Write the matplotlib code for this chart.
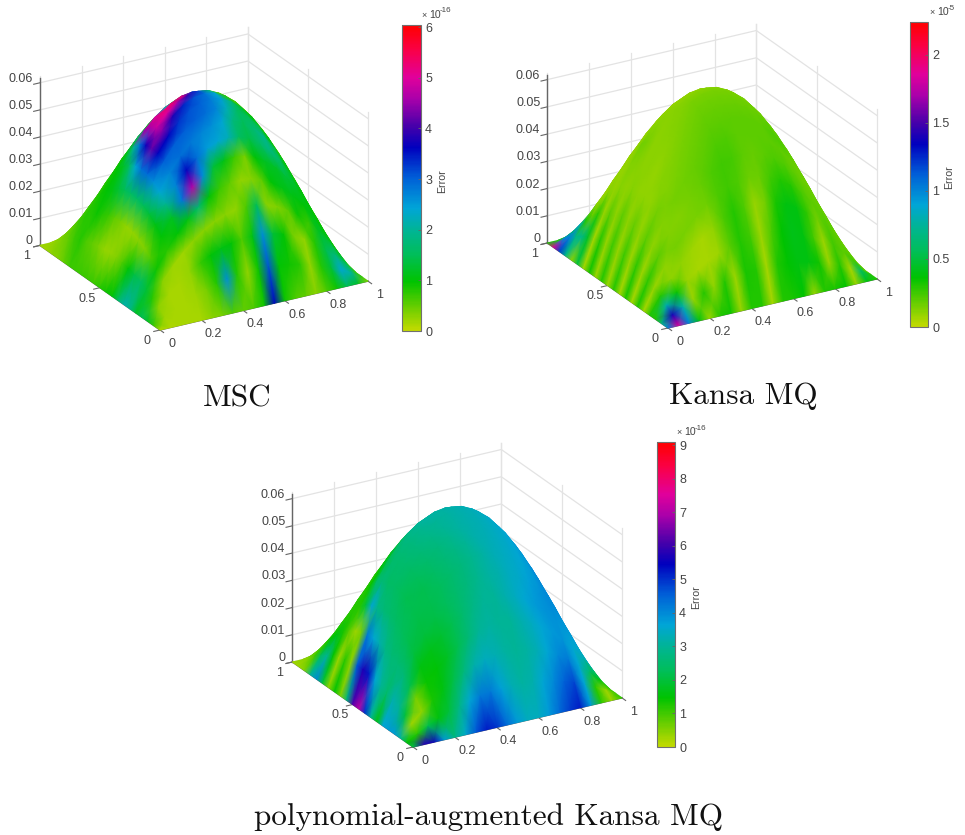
import numpy as np
import matplotlib
matplotlib.use("Agg")
import matplotlib.pyplot as plt
from matplotlib.cm import ScalarMappable
from matplotlib.colors import LinearSegmentedColormap, Normalize
from mpl_toolkits.mplot3d import proj3d

plt.rcParams["font.family"] = ["Liberation Sans", "DejaVu Sans"]

# grid nodes, every 0.05
nodes = [0, .05, .1, .15, .2, .25, .3, .35, .4, .45, .5, .55, .6, .65, .7, .75, .8, .85, .9, .95, 1]
# height of the bell along one side, the surface is profile(x) * profile(y)
profile = [0, .0475, .09, .1275, .16, .1875, .21, .2275, .24, .2475, .25,
           .2475, .24, .2275, .21, .1875, .16, .1275, .09, .0475, 0]

x_ticks = [0, .2, .4, .6, .8, 1]
x_labels = ["0", "0.2", "0.4", "0.6", "0.8", "1"]
y_ticks = [0, .5, 1]
y_labels = ["0", "0.5", "1"]
z_ticks = [0, .01, .02, .03, .04, .05, .06]
z_labels = ["0", "0.01", "0.02", "0.03", "0.04", "0.05", "0.06"]

# rows are y = 0 ... 1, columns are x = 0 ... 1
msc_error = [
    [.1, .1, .15, .15, .15, .3, .4, .6, .5, .6, .9, 3.6, .9, .6, .5, .3, .6, .9, 1.5, 1.2, .3],
    [.7, .2, .15, .15, .2, .4, .8, 2.6, .8, .25, .9, 3.1, 1.0, .9, .8, .25, .8, 1.3, 2.4, 2.0, .7],
    [1.2, .3, .15, .15, .25, .7, 1.0, 1.1, 1.0, .6, 1.1, 2.6, 1.3, 1.0, .4, .25, .8, 1.4, 1.8, 1.5, .7],
    [1.5, .8, .3, .2, .2, .3, .3, .3, .3, .25, .6, 1.5, .3, .35, .5, .9, .7, 1.2, 1.3, 1.2, .7],
    [1.2, 1.3, .9, .8, 1.0, 1.1, 1.7, 1.0, .7, .5, .25, .3, .5, 1.0, 1.1, 1.1, 1.0, 1.1, 1.0, .9, .6],
    [1.9, 1.6, .6, 1.0, 1.2, 2.8, 4.7, 2.6, 1.3, 1.1, .7, .4, 1.0, 1.2, 1.2, 1.3, 1.2, 1.0, .9, .7, .5],
    [2.1, 1.4, .35, 1.1, 2.0, 2.7, 3.6, 2.9, 2.5, 2.4, 2.2, 1.6, 1.4, 1.6, 1.8, 1.6, 1.2, 1.0, .9, .6, .5],
    [1.6, 1.0, .3, 1.3, 2.4, 2.7, 2.9, 2.8, 2.7, 2.6, 2.4, 1.8, 1.5, 1.7, 1.9, 1.4, 1.0, .8, .6, .5, .5],
    [1.0, .6, .25, 1.5, 2.6, 3.0, 3.0, 3.0, 3.0, 2.9, 2.7, 2.2, 1.6, 1.5, 1.4, 1.0, .7, .6, .5, .5, .5],
    [.9, .35, .25, 1.6, 2.9, 3.6, 3.6, 3.3, 3.1, 3.0, 2.8, 2.5, 1.8, 1.2, 1.0, .7, .5, .5, .5, .5, .5],
    [.8, .25, .4, 1.6, 2.9, 4.2, 4.4, 3.8, 3.4, 3.1, 2.9, 2.4, .8, .6, .5, .5, .5, .5, .5, .5, .5],
    [.7, .25, .5, 1.5, 2.4, 3.7, 4.8, 5.0, 4.6, 3.9, 3.2, 1.8, .5, .5, .5, .5, .5, .5, .5, .5, .5],
    [.7, .4, .7, 1.3, 1.6, 2.9, 4.6, 5.2, 5.3, 5.2, 3.4, 1.0, .5, .5, .5, .5, .5, .5, .5, .5, .5],
    [.7, .5, .8, 1.1, 1.2, 2.0, 4.5, 5.0, 2.2, 1.2, 1.0, .8, .5, .5, .5, .5, .5, .5, .5, .5, .5],
    [.7, .6, .9, 1.0, 1.0, 1.2, 1.5, 1.2, 1.0, 1.0, 1.0, .8, .5, .5, .5, .5, .5, .5, .5, .5, .5],
    [.7, .8, .8, .9, .9, .9, .9, .9, .9, .9, .9, .8, .5, .5, .5, .5, .5, .5, .5, .5, .5],
    [.5, .7, .8, .8, .8, .8, .8, .8, .8, .8, .8, .8, .5, .5, .5, .5, .5, .5, .5, .5, .5],
    [.35, .5, .7, .7, .7, .7, .7, .7, .7, .7, .7, .7, .5, .5, .5, .5, .5, .5, .5, .5, .5],
    [.3, .4, .5, .6, .6, .6, .6, .6, .6, .6, .6, .6, .5, .5, .5, .5, .5, .5, .5, .5, .5],
    [.2, .3, .4, .5, .5, .5, .5, .5, .5, .5, .5, .5, .5, .5, .5, .5, .5, .5, .5, .5, .5],
    [.2, .2, .3, .4, .5, .5, .5, .5, .5, .5, .5, .5, .5, .5, .5, .5, .5, .5, .5, .5, .5],
]

kansa_error = [
    [1.0, 1.85, 1.0, .4, .08, .3, .34, .08, .3, .3, .06, .3, .32, .36, .08, .3, .32, .36, .08, .4, .3],
    [.7, 1.4, .8, .08, .3, .1, .3, .07, .32, .3, .06, .3, .36, .4, .4, .34, .08, .3, .06, .6, .3],
    [.3, .8, .35, .08, .06, .06, .07, .2, .3, .25, .07, .22, .36, .42, .4, .25, .07, .25, .2, .25, .15],
    [.3, .3, .1, .1, .07, .06, .1, .22, .3, .22, .08, .15, .32, .4, .4, .28, .15, .22, .2, .18, .12],
    [.06, .08, .1, .15, .14, .14, .16, .22, .25, .22, .17, .17, .24, .3, .3, .24, .2, .2, .2, .16, .12],
    [.32, .28, .2, .13, .13, .15, .18, .22, .25, .24, .2, .18, .2, .22, .22, .2, .18, .18, .18, .16, .12],
    [.06, .07, .1, .13, .15, .16, .18, .2, .22, .22, .2, .2, .2, .2, .2, .18, .17, .17, .16, .15, .12],
    [.32, .28, .2, .15, .13, .14, .16, .18, .2, .2, .2, .2, .2, .2, .22, .22, .18, .17, .16, .15, .12],
    [.06, .07, .09, .1, .12, .13, .14, .16, .18, .18, .18, .18, .18, .18, .2, .2, .18, .17, .16, .15, .12],
    [.3, .26, .18, .1, .09, .11, .13, .14, .16, .16, .16, .16, .16, .16, .16, .16, .15, .15, .15, .14, .12],
    [.07, .08, .1, .1, .11, .11, .12, .13, .14, .14, .14, .14, .14, .14, .14, .14, .14, .14, .14, .14, .12],
    [.3, .26, .2, .12, .11, .11, .11, .12, .12, .12, .12, .12, .12, .12, .12, .13, .13, .13, .13, .13, .12],
    [.07, .08, .1, .1, .13, .14, .12, .11, .1, .1, .1, .1, .1, .1, .11, .12, .13, .13, .13, .13, .12],
    [.34, .3, .2, .12, .13, .16, .12, .1, .09, .09, .09, .09, .09, .09, .11, .12, .13, .13, .13, .13, .12],
    [.06, .06, .08, .09, .09, .1, .09, .09, .09, .09, .09, .09, .09, .09, .1, .12, .13, .13, .13, .13, .12],
    [.5, .45, .28, .12, .09, .09, .09, .09, .09, .09, .09, .09, .09, .09, .1, .12, .13, .13, .13, .13, .12],
    [.1, .7, .18, .09, .09, .09, .09, .09, .09, .09, .09, .09, .09, .09, .1, .12, .13, .13, .13, .13, .12],
    [.7, .7, .3, .1, .09, .09, .09, .09, .09, .09, .09, .09, .09, .09, .1, .12, .13, .13, .13, .13, .12],
    [1.2, 1.0, .8, .15, .09, .09, .09, .09, .09, .09, .09, .09, .09, .09, .1, .12, .13, .13, .13, .13, .12],
    [1.9, 1.0, .5, .15, .09, .09, .09, .09, .09, .09, .09, .09, .09, .09, .1, .12, .13, .13, .13, .13, .12],
    [.3, .3, .3, .15, .09, .09, .09, .09, .09, .09, .09, .09, .09, .09, .1, .12, .13, .13, .13, .13, .12],
]

poly_error = [
    [2.0, 5.8, 5.6, 3.8, 2.8, 3.5, 4.6, 5.2, 5.0, 4.4, 3.8, 3.4, 3.4, 3.8, 4.4, 4.9, 5.2, 3.8, 1.2, .3, 1.2],
    [1.5, 1.2, 2.2, 1.6, 2.0, 2.8, 3.6, 4.2, 4.2, 3.7, 3.3, 3.1, 3.2, 3.6, 4.0, 4.5, 4.8, 3.6, 1.2, .3, 1.0],
    [3.0, .3, .4, 1.3, 1.6, 2.1, 2.7, 3.2, 3.4, 3.3, 3.1, 3.0, 3.1, 3.3, 3.6, 4.0, 4.2, 3.6, 2.5, 1.5, 1.0],
    [3.8, 2.0, .6, 1.4, 1.5, 1.8, 2.2, 2.6, 3.0, 3.1, 3.0, 3.0, 3.2, 3.4, 3.6, 3.8, 3.9, 3.6, 3.3, 2.5, 2.0],
    [3.8, 3.0, 2.2, 1.6, 1.7, 1.9, 2.2, 2.5, 2.8, 3.0, 3.0, 3.2, 3.4, 3.6, 3.8, 3.9, 3.9, 3.8, 3.6, 3.4, 3.0],
    [3.6, 3.2, 2.6, 2.0, 2.0, 2.1, 2.3, 2.5, 2.7, 2.9, 3.1, 3.2, 3.4, 3.5, 3.7, 3.9, 4.0, 3.9, 3.8, 3.8, 3.6],
    [1.6, 2.5, 2.6, 2.2, 2.1, 2.2, 2.3, 2.5, 2.7, 2.9, 3.1, 3.3, 3.4, 3.5, 3.6, 3.8, 4.0, 4.0, 3.8, 3.8, 3.8],
    [3.0, 3.0, 2.6, 2.3, 2.2, 2.2, 2.4, 2.6, 2.8, 3.0, 3.2, 3.3, 3.4, 3.5, 3.6, 3.8, 4.0, 4.0, 3.8, 3.8, 3.8],
    [5.0, 3.6, 2.8, 2.4, 2.2, 2.3, 2.5, 2.7, 2.9, 3.1, 3.2, 3.3, 3.4, 3.5, 3.6, 3.8, 4.0, 4.0, 3.8, 3.8, 3.8],
    [7.2, 5.2, 3.2, 2.5, 2.3, 2.4, 2.6, 2.8, 3.0, 3.1, 3.2, 3.3, 3.4, 3.5, 3.6, 3.8, 4.0, 4.0, 3.8, 3.8, 3.8],
    [6.2, 5.7, 3.6, 2.6, 2.4, 2.5, 2.7, 2.9, 3.0, 3.1, 3.2, 3.3, 3.4, 3.5, 3.6, 3.8, 4.0, 4.0, 3.8, 3.8, 3.8],
    [2.6, 4.6, 4.2, 2.8, 2.4, 2.5, 2.7, 2.9, 3.1, 3.1, 3.2, 3.3, 3.4, 3.5, 3.6, 3.8, 4.0, 4.0, 3.8, 3.8, 3.8],
    [.5, .4, .6, 3.6, 2.6, 2.5, 2.7, 2.9, 3.1, 3.1, 3.2, 3.3, 3.4, 3.5, 3.6, 3.8, 4.0, 4.0, 3.8, 3.8, 3.8],
    [1.5, 1.2, .3, 2.0, 2.5, 2.2, 2.5, 2.8, 3.0, 3.1, 3.2, 3.3, 3.4, 3.5, 3.6, 3.8, 4.0, 4.0, 3.8, 3.8, 3.8],
    [.4, .3, .8, 1.2, 1.4, 1.5, 1.7, 2.1, 2.6, 2.8, 3.0, 3.1, 3.4, 3.5, 3.6, 3.8, 4.0, 4.0, 3.8, 3.8, 3.8],
    [2.0, 1.5, 1.3, 1.2, 1.2, 1.2, 1.3, 1.6, 2.1, 2.5, 2.7, 2.9, 3.4, 3.5, 3.6, 3.8, 4.0, 4.0, 3.8, 3.8, 3.8],
    [4.0, 3.0, 1.6, 1.2, 1.2, 1.2, 1.2, 1.3, 1.6, 2.0, 2.4, 2.8, 3.4, 3.5, 3.6, 3.8, 4.0, 4.0, 3.8, 3.8, 3.8],
    [3.0, 2.4, 1.5, 1.2, 1.2, 1.2, 1.2, 1.2, 1.4, 1.8, 2.2, 2.8, 3.4, 3.5, 3.6, 3.8, 4.0, 4.0, 3.8, 3.8, 3.8],
    [.5, 1.0, 1.2, 1.2, 1.2, 1.2, 1.2, 1.2, 1.3, 1.6, 2.0, 2.8, 3.4, 3.5, 3.6, 3.8, 4.0, 4.0, 3.8, 3.8, 3.8],
    [.3, .5, .9, 1.1, 1.2, 1.2, 1.2, 1.2, 1.3, 1.6, 2.0, 2.8, 3.4, 3.5, 3.6, 3.8, 4.0, 4.0, 3.8, 3.8, 3.8],
    [.3, .4, .8, 1.0, 1.2, 1.2, 1.2, 1.2, 1.3, 1.6, 2.0, 2.8, 3.4, 3.5, 3.6, 3.8, 4.0, 4.0, 3.8, 3.8, 3.8],
]

colour_stops = [
    (0, (195, 218, 0)), (.08, (100, 205, 0)), (.16, (0, 195, 0)), (.25, (0, 190, 90)),
    (.33, (0, 180, 150)), (.40, (0, 165, 215)), (.5, (0, 95, 215)), (.6, (0, 0, 190)),
    (.67, (70, 0, 170)), (.76, (170, 0, 170)), (.83, (225, 0, 155)), (.92, (250, 0, 70)),
    (1, (255, 0, 0)),
]
error_cmap = LinearSegmentedColormap.from_list(
    "error", [(p, tuple(c / 255 for c in rgb)) for p, rgb in colour_stops], N=256)

W, H = 965, 835
fig = plt.figure(figsize=(W / 100, H / 100), dpi=100)
overlay = fig.add_axes([0, 0, 1, 1], zorder=5)
overlay.set_xlim(0, W)
overlay.set_ylim(H, 0)
overlay.axis("off")

TEXT = "#444444"
GRID = "#e3e3e3"
AXIS = "#666666"


def to_px(ax, xs, ys, zs):
    xs, ys, zs = np.asarray(xs, float), np.asarray(ys, float), np.asarray(zs, float)
    u, v, _ = proj3d.proj_transform(xs.ravel(), ys.ravel(), zs.ravel(), ax.get_proj())
    pts = ax.transData.transform(np.column_stack([u, v]))
    return pts[:, 0].reshape(xs.shape), H - pts[:, 1].reshape(xs.shape)


def make_box(front, right):
    # real 3D axes, scaled so the floor corners land on the given pixels
    ax = fig.add_axes([.1, .1, .4, .4 * W / H], projection="3d", proj_type="ortho", zorder=1)
    ax.view_init(elev=24, azim=-120)
    ax.set_xlim(0, 1)
    ax.set_ylim(0, 1)
    ax.set_zlim(0, .0625)
    ax.set_box_aspect((1, 1, .772))
    ax.set_axis_off()
    ax.patch.set_alpha(0)
    for i in range(2):
        ax.apply_aspect()
        p = to_px(ax, [0, 1], [0, 0], [0, 0])
        pos = ax.get_position()
        if i == 0:
            k = (right[0] - front[0]) / (p[0][1] - p[0][0])
            ax.set_position([pos.x0, pos.y0, pos.width * k, pos.height * k])
        else:
            dx, dy = front[0] - p[0][0], front[1] - p[1][0]
            ax.set_position([pos.x0 + dx / W, pos.y0 - dy / H, pos.width, pos.height])
    ax.apply_aspect()
    return ax


def draw_panel(front, right, error, vmax, bar, bar_ticks, bar_labels, exponent):
    ax = make_box(front, right)

    # back walls
    for z in z_ticks:
        ax.plot([0, 1, 1], [1, 1, 0], [z, z, z], color=GRID, lw=.9)
    for x in x_ticks:
        ax.plot([x, x], [1, 1], [0, .0625], color=GRID, lw=.9)
    for y in y_ticks:
        ax.plot([1, 1], [y, y], [0, .0625], color=GRID, lw=.9)

    # axis lines and ticks
    ax.plot([0, 0], [1, 1], [0, .0618], color=AXIS, lw=1)
    ax.plot([0, 1], [0, 0], [0, 0], color=AXIS, lw=1)
    ax.plot([0, 0], [0, 1], [0, 0], color=AXIS, lw=1)
    for x in x_ticks:
        ax.plot([x, x], [0, -.03], [0, 0], color=AXIS, lw=.8)
    for y in y_ticks:
        ax.plot([0, -.03], [y, y], [0, 0], color=AXIS, lw=.8)
    for z in z_ticks:
        ax.plot([0, -.03], [1, 1], [z, z], color=AXIS, lw=.8)

    # surface, far cells first so the near ones paint over them
    gx, gy = np.meshgrid(nodes, nodes)
    gz = np.outer(profile, profile)
    sx, sy = to_px(ax, gx, gy, gz)
    norm = Normalize(0, vmax)
    overlay.pcolormesh(sx[::-1, ::-1], sy[::-1, ::-1], np.array(error)[::-1, ::-1],
                       shading="gouraud", cmap=error_cmap, norm=norm)

    # tick labels
    for x, lab in zip(x_ticks, x_labels):
        px, py = to_px(ax, [x], [0], [0])
        overlay.text(px[0] + 12, py[0] + 14, lab, ha="center", va="center", fontsize=9, color=TEXT)
    for y, lab in zip(y_ticks, y_labels):
        px, py = to_px(ax, [0], [y], [0])
        overlay.text(px[0] - 13, py[0] + 11, lab, ha="center", va="center", fontsize=9, color=TEXT)
    for z, lab in zip(z_ticks, z_labels):
        px, py = to_px(ax, [0], [1], [z])
        overlay.text(px[0] - 7, py[0] - 4, lab, ha="right", va="center", fontsize=9, color=TEXT)

    # colorbar
    x0, y0, x1, y1 = bar
    cax = fig.add_axes([x0 / W, 1 - y1 / H, (x1 - x0) / W, (y1 - y0) / H], zorder=2)
    cb = fig.colorbar(ScalarMappable(norm=norm, cmap=error_cmap), cax=cax)
    cb.set_ticks(bar_ticks, labels=bar_labels)
    cb.ax.tick_params(direction="in", length=2.5, width=.6, color=AXIS, labelcolor=TEXT,
                      labelsize=9, pad=3)
    cb.outline.set_edgecolor("#707070")
    cb.outline.set_linewidth(.8)
    overlay.text(x1 + 21, (y0 + y1) / 2 + 3, "Error", rotation=90, ha="center", va="center",
                 fontsize=7.6, color=TEXT)
    overlay.text(x0 + 22, y0 - 9, "×", ha="center", va="center", fontsize=6.5, color=TEXT)
    overlay.text(x0 + 27, y0 - 10, "10", ha="left", va="center", fontsize=7.6, color=TEXT)
    overlay.text(x0 + 38, y0 - 14, exponent, ha="left", va="center", fontsize=5.8, color=TEXT)


draw_panel((160, 330), (368, 282), msc_error, 6.04, (402, 25, 421, 331),
           [0, 1, 2, 3, 4, 5, 6], ["0", "1", "2", "3", "4", "5", "6"], "-16")
draw_panel((668, 328), (877, 280), kansa_error, 2.24, (910, 22, 928, 327),
           [0, .5, 1, 1.5, 2], ["0", "0.5", "1", "1.5", "2"], "-5")
draw_panel((413, 747), (622, 699), poly_error, 9.1, (657, 442, 675, 747),
           [0, 1, 2, 3, 4, 5, 6, 7, 8, 9], ["0", "1", "2", "3", "4", "5", "6", "7", "8", "9"], "-16")

# captions
for cx, cy, cap in [(237, 399, "MSC"), (743, 396, "Kansa MQ"), (488, 817, "polynomial-augmented Kansa MQ")]:
    overlay.text(cx, cy, cap, ha="center", va="center", fontsize=22.5, family="cmr10", color="#111111")

fig.savefig("out.png", dpi=100)
